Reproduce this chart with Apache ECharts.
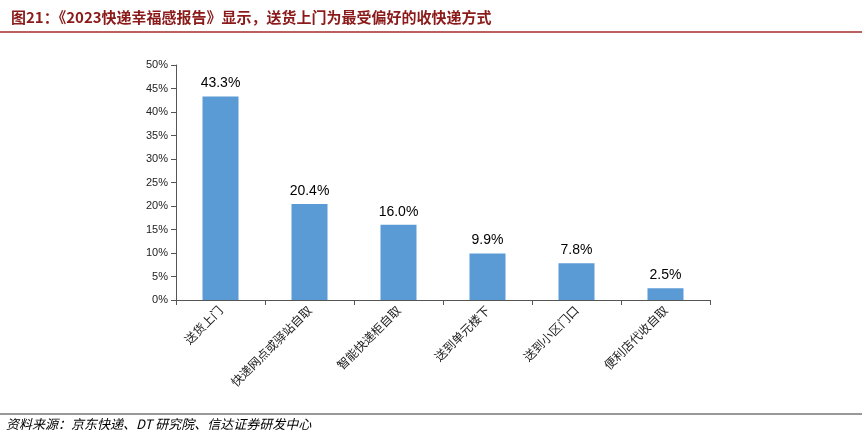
<!DOCTYPE html>
<html><head><meta charset="utf-8">
<script src="https://cdn.jsdelivr.net/npm/echarts@6/dist/echarts.min.js"></script>
<style>body{margin:0;background:#fff}#c{width:862px;height:440px}</style>
</head><body><div id="c"></div>
<script>
const categories=['送货上门','快递网点或驿站自取','智能快递柜自取','送到单元楼下','送到小区门口','便利店代收自取'];
const values=[43.3,20.4,16.0,9.9,7.8,2.5];
const yTicks=[0,5,10,15,20,25,30,35,40,45,50];
const chart=echarts.init(document.getElementById('c'));
chart.setOption({
 animation:false,
 title:{text:'图21：《2023快递幸福感报告》显示，送货上门为最受偏好的收快递方式',left:6,top:5,
  textStyle:{fontSize:15,fontWeight:'bold',color:'#8B1A1A',fontFamily:'Noto Sans CJK SC'}},
 graphic:[
  {type:'line',shape:{x1:0,y1:32,x2:862,y2:32},style:{stroke:'#A52A2A',lineWidth:1.5}},
  {type:'line',shape:{x1:0,y1:414,x2:862,y2:414},style:{stroke:'#333',lineWidth:1}},
  {type:'text',left:6,top:418,style:{text:'资料来源：京东快递、DT 研究院、信达证券研发中心',fontSize:13,fontStyle:'italic',fill:'#000',fontFamily:'Noto Sans CJK SC'}}
 ],
 grid:{left:176,right:152,top:65,bottom:140},
 xAxis:{type:'category',data:categories,
  axisLine:{lineStyle:{color:'#555'}},axisTick:{show:true,lineStyle:{color:'#555'}},
  axisLabel:{rotate:45,fontSize:12,color:'#222',fontFamily:'Noto Sans CJK SC',margin:8}},
 yAxis:{type:'value',min:0,max:50,interval:5,
  axisLine:{show:true,lineStyle:{color:'#555'}},axisTick:{show:true,lineStyle:{color:'#555'}},splitLine:{show:false},
  axisLabel:{formatter:v=>yTicks.includes(v)?v+'%':'',fontSize:11,color:'#222',fontFamily:'Liberation Sans'}},
 series:[{type:'bar',data:values,barWidth:36,itemStyle:{color:'#5B9BD5'},
  label:{show:true,position:'top',formatter:p=>p.value.toFixed(1)+'%',fontSize:14,color:'#000',fontFamily:'Liberation Sans',distance:6}}]
});
</script></body></html>
